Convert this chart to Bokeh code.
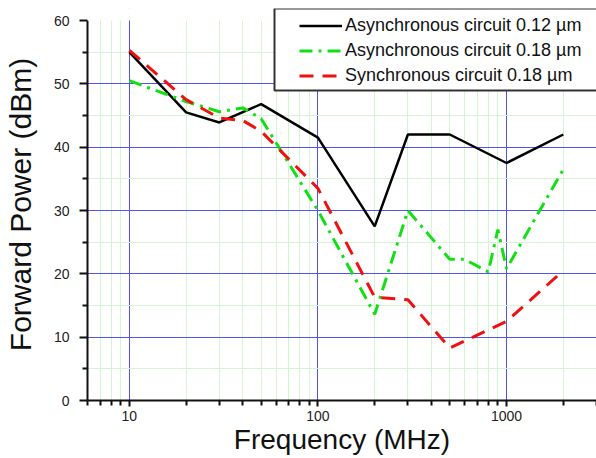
from bokeh.plotting import figure
from bokeh.models import FixedTicker, Legend, LegendItem, Range1d, BoxAnnotation
from bokeh.embed import file_html
from bokeh.resources import INLINE

# Data
freq_async012 = [10, 20, 30, 50, 100, 200, 300, 500, 1000, 2000]
pow_async012 = [55.0, 45.5, 43.9, 46.8, 41.5, 27.5, 42.0, 42.0, 37.5, 42.0]

freq_async018 = [10, 20, 30, 40, 50, 100, 200, 300, 500, 600, 800, 900, 1000, 2000]
pow_async018 = [50.5, 47.2, 45.6, 46.2, 44.5, 30.0, 13.6, 30.0, 22.3, 22.3, 20.3, 27.0, 20.8, 36.5]

freq_sync018 = [10, 20, 30, 40, 50, 100, 200, 300, 500, 1000, 2000]
pow_sync018 = [55.3, 47.5, 44.6, 44.2, 42.5, 33.5, 16.3, 15.9, 8.3, 12.5, 20.5]

x_major = [10, 100, 1000]
x_minor = [6, 7, 8, 9, 20, 30, 40, 50, 60, 70, 80, 90,
           200, 300, 400, 500, 600, 700, 800, 900, 2000, 3000]
y_major = [0, 10, 20, 30, 40, 50, 60]
y_minor = [5, 15, 25, 35, 45, 55]

labels = ["Asynchronous circuit 0.12 \u00b5m",
          "Asynchronous circuit 0.18 \u00b5m",
          "Synchronous circuit 0.18 \u00b5m"]
x_title = "Frequency (MHz)"
y_title = "Forward Power (dBm)"

FONT = "Liberation Sans"
Y_TOP = 60
Y_VIEW_TOP = Y_TOP * 392 / 380   # a little headroom above 60 for the legend box

p = figure(width=596, height=458, x_axis_type="log",
           x_range=Range1d(6, 3000), y_range=Range1d(0, Y_VIEW_TOP),
           output_backend="svg", toolbar_location=None,
           min_border_left=85, min_border_right=0,
           min_border_top=8, min_border_bottom=58)
p.outline_line_color = None
p.background_fill_color = "white"

# Axes
p.xaxis.ticker = FixedTicker(ticks=x_major, minor_ticks=x_minor)
p.xaxis.major_label_overrides = {10: "10", 100: "100", 1000: "1000"}
p.yaxis.ticker = FixedTicker(ticks=y_major, minor_ticks=y_minor)
p.yaxis.bounds = (0, Y_TOP)
for ax in (p.xaxis[0], p.yaxis[0]):
    ax.axis_line_width = 2
    ax.axis_line_color = "#111111"
    ax.major_tick_line_color = "#111111"
    ax.minor_tick_line_color = "#111111"
    ax.major_tick_line_width = 2
    ax.minor_tick_line_width = 2
    ax.major_tick_in = 0
    ax.minor_tick_in = 0
    ax.major_label_text_font = FONT
    ax.major_label_text_font_size = "14px"
    ax.major_label_text_color = "#222222"
    ax.axis_label_text_font = FONT
    ax.axis_label_text_font_style = "normal"
    ax.axis_label_text_color = "#111111"
p.yaxis.major_tick_out = 8
p.yaxis.minor_tick_out = 5
p.xaxis.major_tick_out = 6
p.xaxis.minor_tick_out = 5
p.yaxis.major_label_standoff = 10
p.xaxis.major_label_standoff = 4
p.xaxis.axis_label = x_title
p.yaxis.axis_label = y_title
p.xaxis.axis_label_text_font_size = "28px"
p.yaxis.axis_label_text_font_size = "30px"
p.xaxis.axis_label_standoff = 0
p.yaxis.axis_label_standoff = 14

# Grids
p.xgrid.ticker = FixedTicker(ticks=x_major, minor_ticks=x_minor)
p.ygrid.ticker = FixedTicker(ticks=[10, 20, 30, 40, 50], minor_ticks=y_minor)
for g in (p.xgrid[0], p.ygrid[0]):
    g.grid_line_color = "#5252f0"
    g.grid_line_width = 1
    g.minor_grid_line_color = "#d4f4d4"
    g.minor_grid_line_width = 1

# Lines
r1 = p.line(freq_async012, pow_async012, line_color="black", line_width=2.5)
r2 = p.line(freq_async018, pow_async018, line_color="#12e012", line_width=3,
            line_dash="13 6 3 6")
r3 = p.line(freq_sync018, pow_sync018, line_color="#f01010", line_width=3,
            line_dash="14 9")

# Blank strip above the top of the axis (grid does not continue there)
p.add_layout(BoxAnnotation(bottom=Y_TOP, fill_color="white", fill_alpha=1.0,
                           line_alpha=0))

# Legend frame
p.add_layout(BoxAnnotation(left=187, right=530, top=392, bottom=310,
                           left_units="screen", right_units="screen",
                           top_units="screen", bottom_units="screen",
                           fill_color="white", fill_alpha=1.0,
                           line_color="#333333", line_width=2,
                           line_alpha=1.0))

legend = Legend(items=[LegendItem(label=labels[0], renderers=[r1]),
                       LegendItem(label=labels[1], renderers=[r2]),
                       LegendItem(label=labels[2], renderers=[r3])],
                location=(212, 314))
legend.label_text_font = FONT
legend.label_text_font_size = "18px"
legend.label_text_color = "#111111"
legend.glyph_width = 43
legend.glyph_height = 21
legend.label_height = 21
legend.label_standoff = 3
legend.spacing = 4
legend.padding = 8
legend.margin = 0
legend.border_line_color = None
legend.background_fill_alpha = 0.0
p.add_layout(legend, "center")

open("out.html", "w").write(file_html(p, INLINE))
